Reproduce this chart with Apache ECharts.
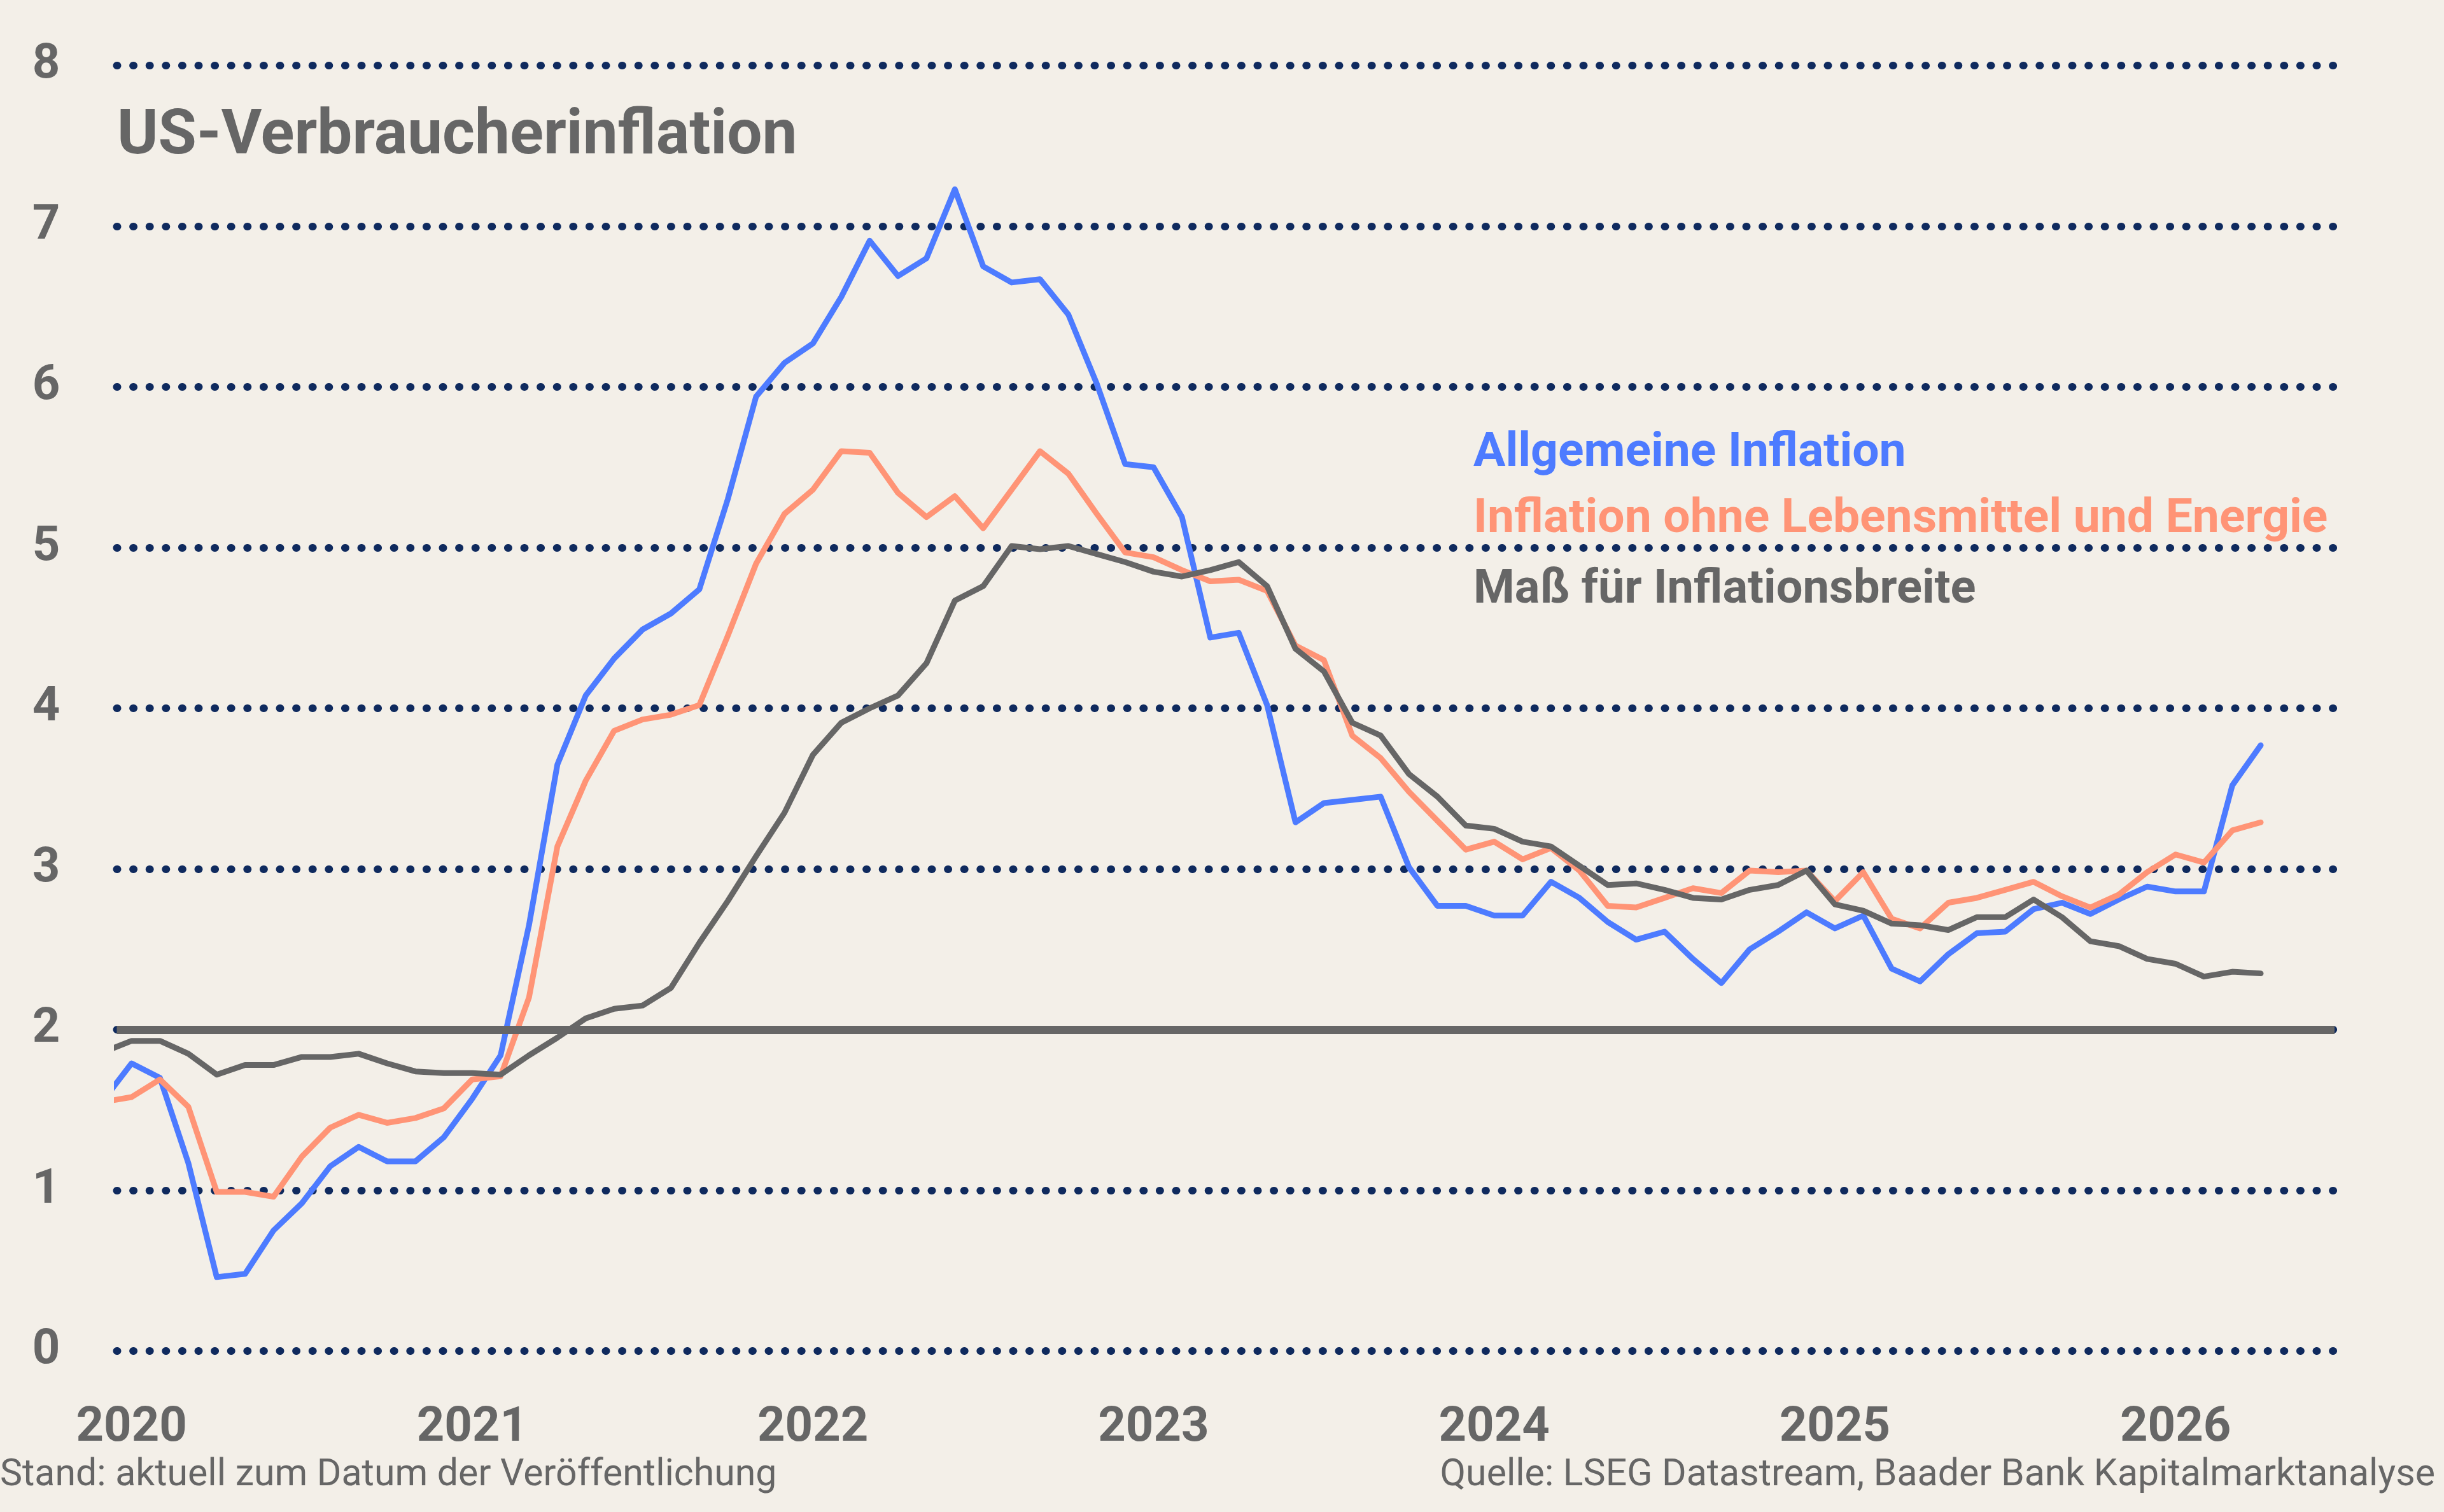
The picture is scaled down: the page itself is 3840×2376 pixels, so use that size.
<!DOCTYPE html>
<html>
<head>
<meta charset="utf-8">
<script src="https://cdn.jsdelivr.net/npm/echarts@6/dist/echarts.min.js"></script>
<style>
html,body{margin:0;padding:0;background:#F3EFE8;}
#chart{width:3840px;height:2376px;}
</style>
</head>
<body>
<div id="chart"></div>
<script>
// Monthly observations from Dec 2019 to Apr 2026
const firstMonth = '2019-12';
const monthCount = 77;
const months = [];
(function(){
  let y = 2019, m = 12;
  for (let i = 0; i < monthCount; i++) {
    months.push(y + '-' + String(m).padStart(2, '0'));
    m++; if (m > 12) { m = 1; y++; }
  }
})();

const allgemeineInflation = [
  1.56,
  1.79, 1.70, 1.17, 0.46, 0.48, 0.75, 0.92, 1.15, 1.27, 1.18, 1.18, 1.33,
  1.57, 1.84, 2.65, 3.65, 4.08, 4.31, 4.49, 4.59, 4.74, 5.30, 5.94, 6.15,
  6.27, 6.56, 6.91, 6.69, 6.80, 7.23, 6.75, 6.65, 6.67, 6.45, 6.02, 5.52,
  5.50, 5.19, 4.44, 4.47, 4.02, 3.29, 3.41, 3.43, 3.45, 3.01, 2.77, 2.77,
  2.71, 2.71, 2.92, 2.82, 2.67, 2.56, 2.61, 2.44, 2.29, 2.50, 2.61, 2.73,
  2.63, 2.71, 2.38, 2.30, 2.47, 2.60, 2.61, 2.75, 2.79, 2.72, 2.81, 2.89,
  2.86, 2.86, 3.52, 3.77
];

const kernInflation = [
  1.55,
  1.58, 1.69, 1.52, 0.99, 0.99, 0.96, 1.21, 1.39, 1.47, 1.42, 1.45, 1.51,
  1.69, 1.71, 2.20, 3.14, 3.55, 3.86, 3.93, 3.96, 4.02, 4.45, 4.90, 5.21,
  5.36, 5.60, 5.59, 5.34, 5.19, 5.32, 5.12, 5.36, 5.60, 5.46, 5.21, 4.97,
  4.94, 4.86, 4.79, 4.80, 4.73, 4.39, 4.30, 3.83, 3.69, 3.48, 3.30, 3.12,
  3.17, 3.06, 3.13, 2.99, 2.77, 2.76, 2.82, 2.88, 2.85, 2.99, 2.98, 2.99,
  2.80, 2.98, 2.69, 2.63, 2.79, 2.82, 2.87, 2.92, 2.83, 2.76, 2.84, 2.98,
  3.09, 3.04, 3.24, 3.29
];

const inflationsbreite = [
  1.86,
  1.93, 1.93, 1.85, 1.72, 1.78, 1.78, 1.83, 1.83, 1.85, 1.79, 1.74, 1.73,
  1.73, 1.72, 1.84, 1.95, 2.07, 2.13, 2.15, 2.26, 2.54, 2.80, 3.08, 3.35,
  3.71, 3.91, 4.00, 4.08, 4.28, 4.67, 4.76, 5.01, 4.99, 5.01, 4.96, 4.91,
  4.85, 4.82, 4.86, 4.91, 4.76, 4.37, 4.23, 3.91, 3.83, 3.59, 3.45, 3.27,
  3.25, 3.17, 3.14, 3.02, 2.90, 2.91, 2.87, 2.82, 2.81, 2.87, 2.90, 2.99,
  2.78, 2.74, 2.66, 2.65, 2.62, 2.70, 2.70, 2.81, 2.70, 2.55, 2.52, 2.44,
  2.41, 2.33, 2.36, 2.35
];

const yearLabels = ['2020', '2021', '2022', '2023', '2024', '2025', '2026'];
const inflationTarget = 2;

const seriesNames = [
  'Allgemeine Inflation',
  'Inflation ohne Lebensmittel und Energie',
  'Maß für Inflationsbreite'
];

const FONT = 'Roboto, "Liberation Sans", sans-serif';
const BLUE = '#4D7BFF';
const ORANGE = '#FF9476';
const GRAY = '#666666';
const NAVY = '#0F2A5E';

function monthIndex(label) {
  const [y, m] = label.split('-').map(Number);
  return (y - 2020) * 12 + (m - 1);
}
function pairs(values) {
  return months.map((m, i) => [monthIndex(m), values[i]]);
}

const chart = echarts.init(document.getElementById('chart'), null, {renderer: 'canvas'});

const option = {
  backgroundColor: '#F3EFE8',
  animation: false,
  grid: {left: 183.5, right: 172, top: 103, bottom: 253, containLabel: false},
  xAxis: {
    type: 'value',
    min: -0.52,
    max: 77.6,
    axisLine: {show: false},
    axisTick: {show: false},
    splitLine: {show: false},
    axisLabel: {
      customValues: yearLabels.map(y => monthIndex(y + '-01')),
      formatter: v => String(2020 + Math.round(v / 12)),
      color: GRAY,
      fontFamily: FONT,
      fontWeight: 'bold',
      fontSize: 76,
      verticalAlign: 'middle',
      margin: 122
    }
  },
  yAxis: {
    type: 'value',
    min: 0,
    max: 8,
    interval: 1,
    axisLine: {show: false},
    axisTick: {show: false},
    axisLabel: {
      color: GRAY,
      fontFamily: FONT,
      fontWeight: 'bold',
      fontSize: 76,
      align: 'center',
      margin: 111
    },
    splitLine: {
      show: true,
      lineStyle: {color: NAVY, width: 12, type: [1, 24.6], cap: 'round'}
    }
  },
  graphic: [
    {type: 'text', style: {x: 184, y: 216, text: 'US-Verbraucherinflation', fill: GRAY, font: 'bold 98px ' + FONT, verticalAlign: 'middle'}},
    {type: 'text', style: {x: 2315, y: 713, text: seriesNames[0], fill: BLUE, font: 'bold 75px ' + FONT, verticalAlign: 'middle'}},
    {type: 'text', style: {x: 2315, y: 817, text: seriesNames[1], fill: ORANGE, font: 'bold 75px ' + FONT, verticalAlign: 'middle'}},
    {type: 'text', style: {x: 2315, y: 928, text: seriesNames[2], fill: GRAY, font: 'bold 74px ' + FONT, verticalAlign: 'middle'}},
    {type: 'text', style: {x: 0, y: 2319, text: 'Stand: aktuell zum Datum der Veröffentlichung', fill: GRAY, font: '59px ' + FONT, verticalAlign: 'middle'}},
    {type: 'text', style: {x: 3826, y: 2319, text: 'Quelle: LSEG Datastream, Baader Bank Kapitalmarktanalyse', fill: GRAY, font: '59px ' + FONT, verticalAlign: 'middle', align: 'right'}}
  ],
  series: [
    {
      name: 'Ziel',
      type: 'line',
      data: [],
      z: 1,
      markLine: {
        silent: true,
        symbol: 'none',
        label: {show: false},
        lineStyle: {color: GRAY, width: 13, type: 'solid'},
        data: [{yAxis: inflationTarget}]
      }
    },
    {
      name: seriesNames[0], type: 'line', data: pairs(allgemeineInflation),
      showSymbol: false, symbol: 'none', z: 2, clip: true,
      lineStyle: {color: BLUE, width: 9, cap: 'round', join: 'round'}
    },
    {
      name: seriesNames[1], type: 'line', data: pairs(kernInflation),
      showSymbol: false, symbol: 'none', z: 3, clip: true,
      lineStyle: {color: ORANGE, width: 9, cap: 'round', join: 'round'}
    },
    {
      name: seriesNames[2], type: 'line', data: pairs(inflationsbreite),
      showSymbol: false, symbol: 'none', z: 4, clip: true,
      lineStyle: {color: GRAY, width: 9, cap: 'round', join: 'round'}
    }
  ]
};
chart.setOption(option);
</script>
</body>
</html>
